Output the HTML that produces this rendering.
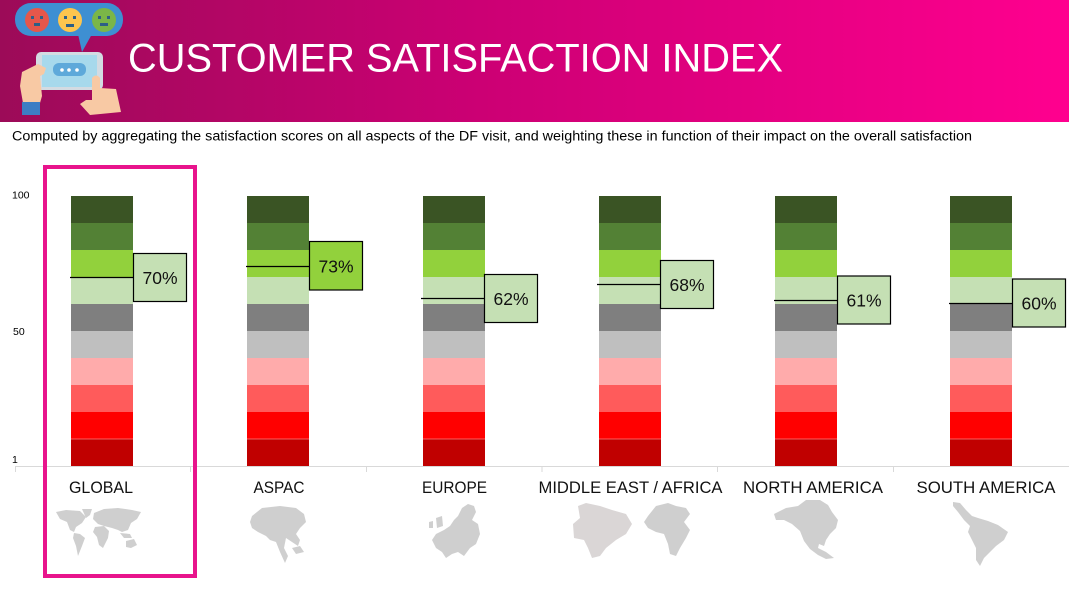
<!DOCTYPE html>
<html><head><meta charset="utf-8"><style>
html,body{margin:0;padding:0;background:#fff;width:1069px;height:590px;overflow:hidden}
svg{display:block}
text{font-family:"Liberation Sans",Arial,sans-serif}
</style></head><body>
<svg width="1069" height="590" viewBox="0 0 1069 590" xmlns="http://www.w3.org/2000/svg">
<defs>
<linearGradient id="hg" x1="0" y1="0" x2="1" y2="0">
<stop offset="0" stop-color="#9C0B58"/>
<stop offset="0.45" stop-color="#CC0074"/>
<stop offset="1" stop-color="#FF008F"/>
</linearGradient>
</defs>
<rect x="0" y="0" width="1069" height="122" fill="url(#hg)"/>
<!-- icon -->
<g>
<rect x="15" y="3" width="108" height="33" rx="16" fill="#3E8FD2"/>
<polygon points="78,34 92,34 82,52" fill="#3E8FD2"/>
<circle cx="37" cy="20" r="12" fill="#E5574B"/>
<circle cx="70" cy="20" r="12" fill="#FDC54E"/>
<circle cx="104" cy="20" r="12" fill="#7AB648"/>
<rect x="31" y="16" width="3" height="3" fill="#2E5F86"/><rect x="40" y="16" width="3" height="3" fill="#2E5F86"/><rect x="34" y="23" width="6" height="3" fill="#2E5F86"/>
<rect x="64" y="16" width="3" height="3" fill="#2E5F86"/><rect x="73" y="16" width="3" height="3" fill="#2E5F86"/><rect x="66" y="24" width="8" height="3" fill="#2E5F86"/>
<rect x="98" y="16" width="3" height="3" fill="#2E5F86"/><rect x="107" y="16" width="3" height="3" fill="#2E5F86"/><rect x="100" y="23" width="8" height="3" fill="#2E5F86"/>
<rect x="36" y="52" width="67" height="38" rx="5" fill="#D3DBE2"/>
<rect x="42" y="55" width="55" height="32" fill="#A7D9EC"/>
<rect x="53" y="63" width="33" height="13" rx="6" fill="#5EA9DA"/>
<circle cx="62" cy="70" r="1.8" fill="#fff"/><circle cx="69" cy="70" r="1.8" fill="#fff"/><circle cx="77" cy="70" r="1.8" fill="#fff"/>
<path d="M22,72 L38,64 L46,68 L44,74 L40,76 L42,96 L40,103 L23,103 L20,86 Z" fill="#F8C9A4"/>
<rect x="22" y="102" width="18" height="13" fill="#3D7DC4"/>
<path d="M92,78 Q96,73 100,78 L100,88 L116,89 L121,112 L90,115 L80,104 L86,100 L92,100 Z" fill="#F8C9A4"/>
</g>
<text x="128" y="71.5" font-size="40" fill="#fff" textLength="655" lengthAdjust="spacingAndGlyphs">CUSTOMER SATISFACTION INDEX</text>
<text x="12" y="140.5" font-size="13.5" fill="#000" textLength="960" lengthAdjust="spacingAndGlyphs">Computed by aggregating the satisfaction scores on all aspects of the DF visit, and weighting these in function of their impact on the overall satisfaction</text>

<!-- y axis labels -->
<text x="12" y="198.5" font-size="10.5" fill="#000">100</text>
<text x="13" y="335" font-size="10.5" fill="#000">50</text>
<text x="12" y="463" font-size="10.5" fill="#000">1</text>

<!-- bars -->
<defs>
<g id="bar">
<rect x="0" y="196" width="62" height="27" fill="#3A5424"/>
<rect x="0" y="223" width="62" height="27" fill="#538135"/>
<rect x="0" y="250" width="62" height="27" fill="#92D13C"/>
<rect x="0" y="277" width="62" height="27" fill="#C5E0B4"/>
<rect x="0" y="304" width="62" height="27" fill="#7F7F7F"/>
<rect x="0" y="331" width="62" height="27" fill="#BFBFBF"/>
<rect x="0" y="358" width="62" height="27" fill="#FFABAB"/>
<rect x="0" y="385" width="62" height="27" fill="#FF5B5B"/>
<rect x="0" y="412" width="62" height="27" fill="#FF0000"/>
<rect x="0" y="439" width="62" height="27" fill="#C00000"/>
<rect x="0" y="438.5" width="62" height="1" fill="#FF8A8A" opacity="0.7"/>
</g>
</defs>
<use href="#bar" x="71"/>
<use href="#bar" x="247"/>
<use href="#bar" x="423"/>
<use href="#bar" x="599"/>
<use href="#bar" x="775"/>
<use href="#bar" x="950"/>

<!-- axis -->
<line x1="15" y1="466.5" x2="1069" y2="466.5" stroke="#D9D9D9" stroke-width="1"/>
<g stroke="#D9D9D9" stroke-width="1">
<line x1="15.5" y1="466" x2="15.5" y2="472"/>
<line x1="190.5" y1="466" x2="190.5" y2="472"/>
<line x1="366.5" y1="466" x2="366.5" y2="472"/>
<line x1="542" y1="466" x2="542" y2="472"/>
<line x1="717.5" y1="466" x2="717.5" y2="472"/>
<line x1="893.5" y1="466" x2="893.5" y2="472"/>
</g>

<!-- markers -->
<g stroke="#000" stroke-width="1.2">
<line x1="70" y1="277.5" x2="134" y2="277.5"/>
<line x1="246" y1="266.5" x2="310" y2="266.5"/>
<line x1="421" y1="298.5" x2="485" y2="298.5"/>
<line x1="597" y1="284.5" x2="661" y2="284.5"/>
<line x1="774" y1="300.5" x2="838" y2="300.5"/>
<line x1="949" y1="303.5" x2="1013" y2="303.5"/>
</g>
<g stroke="#000" stroke-width="1.2">
<rect x="133.5" y="253.5" width="53" height="48" fill="#C5E0B4"/>
<rect x="309.5" y="241.5" width="53" height="48.5" fill="#92D13C"/>
<rect x="484.5" y="274.5" width="53" height="48" fill="#C5E0B4"/>
<rect x="660.5" y="260.5" width="53" height="48" fill="#C5E0B4"/>
<rect x="837.5" y="276" width="53" height="48" fill="#C5E0B4"/>
<rect x="1012.5" y="279" width="53" height="48" fill="#C5E0B4"/>
</g>
<g font-size="17.5" fill="#111" text-anchor="middle">
<text x="160" y="284">70%</text>
<text x="336" y="272.5">73%</text>
<text x="511" y="305">62%</text>
<text x="687" y="291">68%</text>
<text x="864" y="306.5">61%</text>
<text x="1039" y="309.5">60%</text>
</g>

<!-- category labels -->
<g font-size="17" fill="#111">
<text x="69" y="493" textLength="64" lengthAdjust="spacingAndGlyphs">GLOBAL</text>
<text x="253.5" y="493" textLength="51" lengthAdjust="spacingAndGlyphs">ASPAC</text>
<text x="422" y="493" textLength="65" lengthAdjust="spacingAndGlyphs">EUROPE</text>
<text x="538.5" y="493" textLength="184" lengthAdjust="spacingAndGlyphs">MIDDLE EAST / AFRICA</text>
<text x="743" y="493" textLength="140" lengthAdjust="spacingAndGlyphs">NORTH AMERICA</text>
<text x="916.5" y="493" textLength="139" lengthAdjust="spacingAndGlyphs">SOUTH AMERICA</text>
</g>

<!-- maps -->
<g fill="#CFCFCF">
<!-- world -->
<path d="M56,512 L66,510 L80,511 L86,517 L82,523 L76,527 L74,532 L70,530 L67,522 L60,519 Z"/>
<path d="M82,509 L92,509 L90,515 L86,518 Z"/>
<path d="M74,533 L80,534 L85,538 L82,546 L78,556 L76,546 L73,538 Z"/>
<path d="M94,513 L104,509 L118,508 L132,510 L141,512 L137,519 L131,523 L128,530 L122,532 L118,530 L112,528 L104,526 L98,524 L93,519 Z"/>
<path d="M95,527 L104,526 L109,531 L108,538 L103,548 L99,545 L97,537 L93,532 Z"/>
<path d="M120,533 L130,534 L132,538 L124,538 Z"/>
<path d="M126,541 L134,539 L137,545 L131,548 L126,547 Z"/>
<!-- aspac -->
<path d="M252,516 L262,508 L280,506 L296,508 L304,514 L306,522 L300,528 L296,534 L300,540 L298,546 L292,542 L286,538 L284,548 L288,556 L285,563 L280,552 L276,542 L270,540 L266,536 L258,532 L252,528 L250,522 Z"/>
<path d="M292,548 L300,546 L304,552 L296,554 Z"/>
<!-- europe -->
<path d="M458,516 L462,508 L468,504 L474,506 L476,512 L472,520 L478,524 L480,534 L476,544 L470,548 L464,556 L458,552 L452,554 L446,558 L442,552 L436,548 L432,540 L436,534 L444,530 L450,526 L454,520 Z"/>
<path d="M436,518 L442,516 L443,526 L437,528 Z"/>
<path d="M429,522 L433,521 L433,528 L429,528 Z"/>
<!-- north america -->
<path d="M774,514 L786,508 L798,506 L806,500 L820,500 L828,505 L832,512 L838,520 L836,528 L830,534 L826,540 L824,546 L819,544 L818,548 L826,552 L834,558 L826,559 L818,555 L810,549 L804,541 L800,531 L792,524 L784,520 L776,520 Z"/>
<!-- south america -->
<path d="M953,502 L960,503 L966,510 L972,516 L978,518 L988,521 L998,525 L1008,532 L1004,540 L996,546 L990,552 L984,558 L980,566 L976,560 L976,548 L972,540 L968,532 L970,526 L964,520 L958,512 L953,506 Z"/>
<!-- africa -->
<path d="M648,516 L656,506 L668,503 L676,506 L686,508 L690,514 L684,522 L690,530 L686,538 L680,548 L676,556 L670,554 L668,544 L664,534 L656,532 L648,528 L644,522 Z"/>
</g>
<!-- middle east (lighter) -->
<path fill="#DAD6D6" d="M578,506 L586,503 L600,506 L612,510 L626,514 L632,524 L626,534 L616,540 L606,548 L600,556 L592,558 L588,548 L584,540 L574,538 L573,524 L580,518 Z"/>

<!-- highlight frame -->
<rect x="45" y="167" width="150" height="409" fill="none" stroke="#E8148C" stroke-width="4"/>
</svg>
</body></html>
